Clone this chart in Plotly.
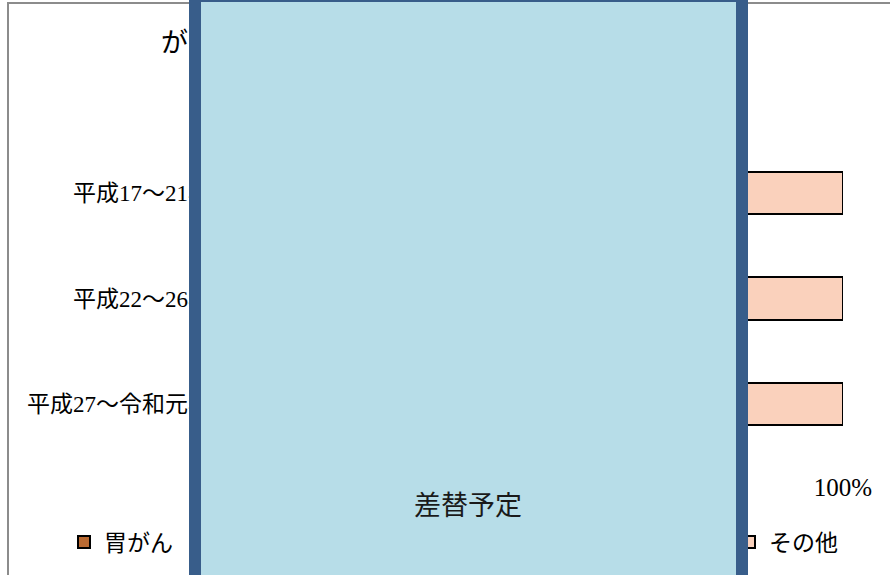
import plotly.graph_objects as go

# Periods (category axis, top to bottom)
periods = ["平成17～21年", "平成22～26年", "平成27～令和元年"]

# Share of deaths by site (%), per period
sites = ["胃がん", "大腸がん", "肝臓がん", "膵臓がん", "肺がん", "その他"]
stomach = [16.2, 14.3, 12.5]
colorectal = [12.4, 13.1, 13.6]
liver = [10.8, 9.2, 7.6]
pancreas = [8.1, 9.0, 10.2]
lung = [22.6, 23.4, 23.8]
other = [29.9, 31.0, 32.3]
series_values = [stomach, colorectal, liver, pancreas, lung, other]
series_colors = ["#BA6A32", "#E2904F", "#F2B081", "#F6C39E", "#F8CBAD", "#FAD1BC"]

x_tick_vals = [0, 0.2, 0.4, 0.6, 0.8, 1.0]

W, H = 890, 575
L, R, T, B = 218, 843, 140, 457


def px_x(px):
    return (px - L) / (R - L)


def px_y(py):
    return (B - py) / (B - T)


fig = go.Figure()
for name, vals, col in zip(sites, series_values, series_colors):
    fig.add_trace(go.Bar(
        name=name,
        y=periods,
        x=[v / 100 for v in vals],
        orientation="h",
        marker=dict(color=col, line=dict(color="#000000", width=2)),
    ))

serif_jp = "Liberation Serif, Noto Sans CJK JP"
sans_jp = "Noto Sans CJK JP"

fig.update_layout(
    width=W, height=H,
    margin=dict(l=L, r=W - R, t=T, b=H - B, autoexpand=False),
    paper_bgcolor="white", plot_bgcolor="white",
    barmode="stack", bargap=0.6,
    showlegend=True,
    legend=dict(
        orientation="h", xref="paper", yref="paper",
        x=px_x(64), xanchor="left", y=px_y(542), yanchor="middle",
        entrywidth=88.0, entrywidthmode="pixels",
        font=dict(family=sans_jp, size=23, color="#000000"),
        traceorder="normal", bgcolor="rgba(0,0,0,0)",
    ),
    xaxis=dict(
        range=[0, 1], tickvals=x_tick_vals, tickformat=".0%",
        showgrid=True, gridcolor="#D9D9D9", gridwidth=2,
        zeroline=False, showline=False, ticks="",
        tickfont=dict(family="Liberation Serif", size=25, color="#000000"),
        ticklabelstandoff=13, fixedrange=True,
    ),
    yaxis=dict(
        autorange="reversed", showgrid=False, zeroline=False, showline=False,
        ticks="", tickfont=dict(family=serif_jp, size=23, color="#000000"),
        ticklabelstandoff=6, fixedrange=True,
    ),
    shapes=[
        # chart area frame
        dict(type="rect", xref="paper", yref="paper", layer="below",
             x0=px_x(8), x1=px_x(920), y0=px_y(3), y1=px_y(600),
             line=dict(color="#8C8C8C", width=2), fillcolor="rgba(0,0,0,0)"),
    ],
    annotations=[
        # chart title
        dict(text="がん死亡者数の部位別構成割合の推移（男性）", xref="paper", yref="paper",
             x=px_x(159), y=px_y(41), xanchor="left", yanchor="middle",
             showarrow=False, font=dict(family=sans_jp, size=27, color="#000000")),
        # placeholder panel
        dict(text=" ", xref="paper", yref="paper",
             x=px_x(468.5), y=px_y(290), xanchor="center", yanchor="middle",
             width=535, height=576, borderwidth=12, borderpad=0,
             bgcolor="#B7DDE8", bordercolor="#385D8A", showarrow=False),
        dict(text="差替予定", xref="paper", yref="paper",
             x=px_x(468), y=px_y(503), xanchor="center", yanchor="middle",
             showarrow=False, font=dict(family=sans_jp, size=27, color="#1A1A1A")),
    ],
)

fig.write_html("out.html")
